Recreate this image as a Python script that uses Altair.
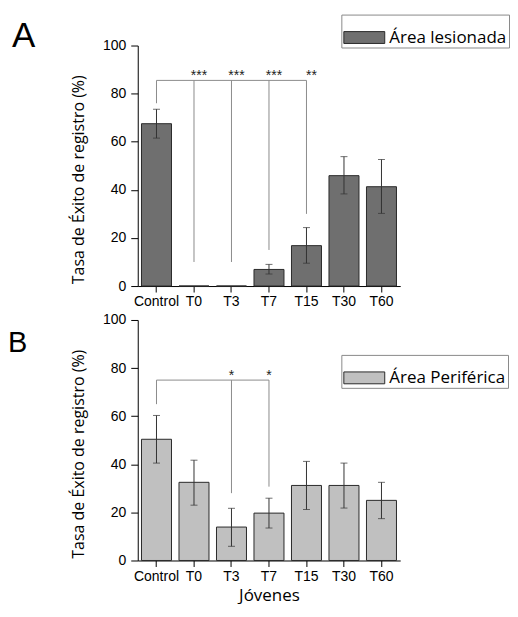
import altair as alt
import pandas as pd

cats = ["Control", "T0", "T3", "T7", "T15", "T30", "T60"]

# Panel A: Área lesionada
a_mean = [67.5, 0.0, 0.0, 6.9, 16.8, 45.9, 41.3]
a_low = [61.5, None, None, 5.0, 9.5, 38.3, 30.2]
a_high = [73.5, None, None, 9.0, 24.3, 53.8, 52.6]
a_br_top = 85.5
a_br_cats = ["Control", "T0", "T3", "T7", "T15"]
a_br_bottom = [76, 10, 10, 15, 30]
a_star_cats = ["T0", "T3", "T7", "T15"]
a_stars = ["***", "***", "***", "**"]

# Panel B: Área Periférica
b_mean = [50.4, 32.5, 13.9, 19.7, 31.2, 31.2, 25.0]
b_low = [40.5, 23.0, 5.9, 13.5, 21.2, 21.8, 17.4]
b_high = [60.3, 41.7, 21.7, 25.9, 41.2, 40.5, 32.5]
b_br_top = 75
b_br_cats = ["Control", "T3", "T7"]
b_br_bottom = [65, 28, 30.7]
b_star_cats = ["T3", "T7"]
b_stars = ["*", "*"]

y_ticks = [0, 20, 40, 60, 80, 100]
y_title = "Tasa de Éxito de registro (%)"
x_title = "Jóvenes"

TICK_FONT = "Liberation Sans"
TITLE_FONT = "Open Sans"


def panel(mean, low, high, series, color, br_top, br_cats, br_bottom,
          star_cats, stars, star_dx, letter, letter_x, letter_y, letter_size,
          legend_y, show_xtitle):
    xscale = alt.Scale(domain=cats, paddingInner=0.2, paddingOuter=0.1)
    xaxis = alt.Axis(
        title=x_title if show_xtitle else None,
        labelAngle=0, tickSize=6, labelPadding=3,
        titlePadding=4, titleFontSize=17, titleFont=TITLE_FONT,
        titleFontWeight="normal",
    )
    yscale = alt.Scale(domain=[0, 100], nice=False)
    yaxis = alt.Axis(
        title=y_title, values=y_ticks, tickSize=7, labelPadding=5,
        titlePadding=16, titleFontSize=16, titleFont=TITLE_FONT,
        titleFontWeight="normal", grid=False, titleY=134,
    )

    def X(field):
        return alt.X(field, type="nominal", scale=xscale, axis=xaxis)

    df = pd.DataFrame({"cat": cats, "mean": mean, "low": low, "high": high})
    df["serie"] = series
    err = df.dropna(subset=["low", "high"])

    bars = alt.Chart(df).mark_bar(stroke="#2a2a2a", strokeWidth=1).encode(
        x=X("cat"),
        y=alt.Y("mean:Q", scale=yscale, axis=yaxis),
        color=alt.Color(
            "serie:N",
            scale=alt.Scale(domain=[series], range=[color]),
            legend=alt.Legend(
                title=None, orient="none", legendX=204, legendY=legend_y,
                symbolType="M-1,-0.29H1V0.29H-1Z", symbolSize=1681,
                symbolStrokeColor="#2a2a2a", symbolStrokeWidth=1,
                labelFont=TITLE_FONT, labelFontSize=17, labelColor="black",
                labelOffset=4, padding=2, strokeColor="#8a8a8a",
                fillColor="white",
            ),
        ),
    )

    whisk = alt.Chart(err).mark_rule(color="#333333", strokeWidth=1).encode(
        x=X("cat"), y=alt.Y("low:Q", scale=yscale, axis=yaxis), y2="high:Q"
    )
    cap_lo = alt.Chart(err).mark_tick(color="#333333", size=7, thickness=1).encode(
        x=X("cat"), y=alt.Y("low:Q", scale=yscale, axis=yaxis)
    )
    cap_hi = alt.Chart(err).mark_tick(color="#333333", size=7, thickness=1).encode(
        x=X("cat"), y=alt.Y("high:Q", scale=yscale, axis=yaxis)
    )

    hdf = pd.DataFrame({"x1": [br_cats[0]], "x2": [br_cats[-1]], "top": [br_top]})
    hline = alt.Chart(hdf).mark_rule(color="#8c8c8c", strokeWidth=1).encode(
        x=X("x1"), x2="x2", y=alt.Y("top:Q", scale=yscale, axis=yaxis)
    )
    ddf = pd.DataFrame({"cat": br_cats, "bot": br_bottom})
    ddf["top"] = br_top
    drops = alt.Chart(ddf).mark_rule(color="#8c8c8c", strokeWidth=1).encode(
        x=X("cat"), y=alt.Y("top:Q", scale=yscale, axis=yaxis), y2="bot:Q"
    )
    sdf = pd.DataFrame({"cat": star_cats, "lab": stars})
    sdf["top"] = br_top
    star = alt.Chart(sdf).mark_text(
        fontSize=14, font=TICK_FONT, color="#222222", baseline="alphabetic",
        dx=star_dx, dy=0,
    ).encode(x=X("cat"), y=alt.Y("top:Q", scale=yscale, axis=yaxis), text="lab:N")

    let = alt.Chart(pd.DataFrame({"t": [letter]})).mark_text(
        fontSize=letter_size, font=TICK_FONT, color="black", align="left",
        baseline="alphabetic",
    ).encode(x=alt.value(letter_x), y=alt.value(letter_y), text="t:N")

    return alt.layer(bars, whisk, cap_lo, cap_hi, hline, drops, star, let).properties(
        width=263, height=241
    )


pa = panel(a_mean, a_low, a_high, "Área lesionada", "#6f6f6f", a_br_top,
           a_br_cats, a_br_bottom, a_star_cats, a_stars, 5, "A", -126, 1, 35,
           -31, False)
pb = panel(b_mean, b_low, b_high, "Área Periférica", "#c0c0c0", b_br_top,
           b_br_cats, b_br_bottom, b_star_cats, b_stars, 0, "B", -130, 32, 29,
           35, True)

chart = alt.vconcat(pa, pb, spacing=4).resolve_scale(
    color="independent", x="independent", y="independent"
).properties(
    padding={"left": 0, "top": 5, "right": 0, "bottom": 0}
).configure_view(stroke=None).configure_axis(
    domainColor="black", tickColor="black", labelColor="black",
    titleColor="black", labelFont=TICK_FONT, labelFontSize=14,
)

chart.save("out.html", embed_options={"renderer": "svg", "actions": False})
